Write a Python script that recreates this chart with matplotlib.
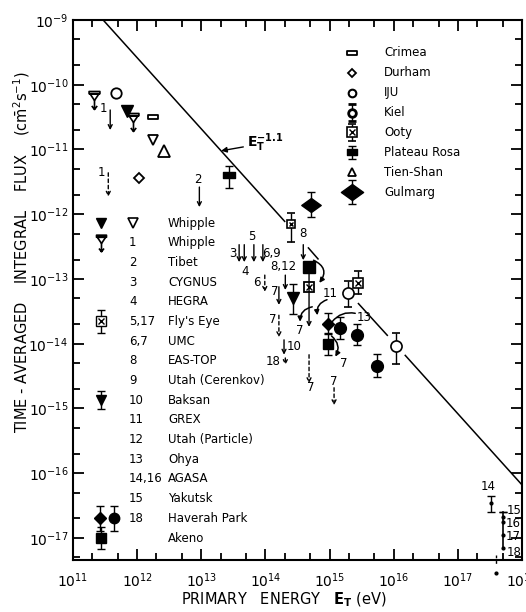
import numpy as np
import matplotlib
matplotlib.use('Agg')
from matplotlib import pyplot as plt
from matplotlib import ticker as mticker
from matplotlib.path import Path

# All values are log10 of E_T [eV] and of integral flux [cm^-2 s^-1],
# read off the published figure.

# E_T^-1.1 reference line, drawn in pieces (gaps around data points)
line_E = [[11.47, 14.30], [14.67, 14.82], [15.45, 15.90], [16.18, 18.00]]
line_F = [[-9.00, -12.11], [-12.52, -12.69], [-13.38, -13.87], [-14.18, -16.18]]

# single symbols without error bars
iju_E, iju_F = [11.67], [-10.13]
whip_fill_E, whip_fill_F = [11.84], [-10.41]
whip_open_E, whip_open_F = [12.25], [-10.85]
whip1_E, whip1_F = [11.33, 11.94], [-10.24, -10.58]
crimea_E, crimea_F = [12.25], [-10.50]
tien_E, tien_F = [12.42], [-11.02]
durham_E, durham_F = [12.03], [-11.44]
bigsq_E, bigsq_F = [14.68], [-12.81]
fly_E, fly_F = [14.68], [-13.12]

# symbols with error bars: centre, lower, upper
plateau_E, plateau_F, plateau_lo, plateau_hi = [13.43], [-11.39], [-11.59], [-11.25]
gulmarg_E, gulmarg_F, gulmarg_lo, gulmarg_hi = [14.71], [-11.86], [-12.04], [-11.66]
flyerr_E, flyerr_F, flyerr_lo, flyerr_hi = [14.40], [-12.15], [-12.43], [-11.98]
ooty_E, ooty_F, ooty_lo, ooty_hi = [15.45], [-13.06], [-13.23], [-12.88]
ocirc_E = [15.29, 16.04]
ocirc_F = [-13.22, -14.03]
ocirc_lo = [-13.43, -14.31]
ocirc_hi = [-13.03, -13.83]
fcirc_E = [15.17, 15.43, 15.74]
fcirc_F = [-13.76, -13.86, -14.34]
fcirc_lo = [-13.93, -14.02, -14.51]
fcirc_hi = [-13.59, -13.69, -14.16]
fdiam_E, fdiam_F, fdiam_lo, fdiam_hi = [14.98], [-13.69], [-13.85], [-13.53]
fsq_E, fsq_F, fsq_lo, fsq_hi = [14.98], [-14.00], [-14.17], [-13.83]
baksan_E, baksan_F, baksan_lo, baksan_hi = [14.43], [-13.29], [-13.54], [-13.08]
agasa_E, agasa_F, agasa_lo, agasa_hi = [17.51], [-16.46], [-16.60], [-16.35]

# UHE points stacked at 10^17.7 (15, 16, 17, 18)
uhe_E = 17.71
uhe_F = [-16.68, -16.75, -16.95, -17.15]
uhe_top = -16.60

# upper-limit arrows: E, from, to, dashed
ul_E = [11.58, 11.55, 12.97, 13.59, 13.67, 13.82, 13.96, 13.99, 14.59, 14.31,
        14.21, 14.21, 14.29, 14.31, 14.68, 15.07, 14.68]
ul_top = [-10.39, -11.36, -11.58, -12.47, -12.47, -12.47, -12.47, -12.94, -12.47, -12.94,
          -13.12, -13.56, -13.94, -14.22, -14.17, -14.68, -12.81]
ul_bot = [-10.70, -11.73, -11.89, -12.74, -12.74, -12.74, -12.74, -13.20, -12.71, -13.17,
          -13.40, -13.90, -14.17, -14.33, -14.61, -14.95, -13.74]
ul_dash = [False, True, False, False, False, False, False, True, False, False,
           False, True, False, True, True, True, False]

# curved arrows: E0, F0, E1, F1, curvature, with head
cv_E0 = [14.75, 14.73, 14.96, 15.40, 15.03]
cv_F0 = [-12.71, -13.43, -13.32, -13.53, -13.88]
cv_E1 = [14.84, 14.54, 14.81, 15.04, 15.09]
cv_F1 = [-13.06, -13.66, -13.56, -13.66, -14.20]
cv_rad = [-0.6, 0.4, 0.4, 0.3, -0.4]
cv_head = [True, True, True, False, True]

# experiment numbers written next to the points
num_text = ['1', '1', '2', '3', '4', '5', '6,9', '6', '8', '8,12', '7', '7', '10', '18',
            '7', '7', '7', '11', '13', '7', '14', '15', '16', '17', '18']
num_E = [11.47, 11.45, 12.95, 13.50, 13.68, 13.79, 14.10, 13.86, 14.59, 14.28, 14.14, 14.12,
         14.45, 14.12, 14.70, 15.07, 14.53, 15.01, 15.54, 15.22, 17.47, 17.87, 17.87, 17.87, 17.87]
num_F = [-10.36, -11.36, -11.47, -12.60, -12.89, -12.34, -12.60, -13.05, -12.29, -12.81,
         -13.19, -13.63, -14.05, -14.28, -14.67, -14.59, -13.79, -13.22, -13.59, -14.30,
         -16.21, -16.58, -16.77, -16.97, -17.23]

# axis decades
x_decades = list(range(11, 19))
y_decades = list(range(-17, -8))

# key inside the plot
key_nums = ['', '1', '2', '3', '4', '5,17', '6,7', '8', '9', '10', '11', '12', '13',
            '14,16', '15', '18', '']
key_names = ['Whipple', 'Whipple', 'Tibet', 'CYGNUS', 'HEGRA', "Fly's Eye", 'UMC',
             'EAS-TOP', 'Utah (Cerenkov)', 'Baksan', 'GREX', 'Utah (Particle)', 'Ohya',
             'AGASA', 'Yakutsk', 'Haverah Park', 'Akeno']
site_names = ['Crimea', 'Durham', 'IJU', 'Kiel', 'Ooty', 'Plateau Rosa', 'Tien-Shan', 'Gulmarg']


def P(v):
    return 10.0 ** np.asarray(v, dtype=float)


# custom marker shapes
M, L, C = Path.MOVETO, Path.LINETO, Path.CLOSEPOLY
whip1_marker = Path([(-0.6, 1.0), (0.6, 1.0), (0.6, 0.75), (-0.6, 0.75), (-0.6, 1.0),
                     (-0.5, 0.75), (0.5, 0.75), (0.0, 0.0), (-0.5, 0.75),
                     (0.0, 0.0), (0.0, -1.0),
                     (-0.3, -0.6), (0.0, -1.0), (0.3, -0.6)],
                    [M, L, L, L, C, M, L, L, C, M, L, M, L, L])
rect_marker = Path([(-1, -0.5), (1, -0.5), (1, 0.5), (-1, 0.5), (-1, -0.5)],
                   [M, L, L, L, C])
rect2_marker = Path([(-1, -0.6), (1, -0.6), (1, 0.6), (-1, 0.6), (-1, -0.6)],
                    [M, L, L, L, C])
diam_marker = Path([(-1, 0), (0, 0.72), (1, 0), (0, -0.72), (-1, 0)], [M, L, L, L, C])

plt.rcParams['font.family'] = ['DejaVu Sans']

fig = plt.figure(figsize=(5.26, 6.12), dpi=100)
ax = fig.add_axes([73 / 526, 52 / 612, 449 / 526, 540 / 612])
ax.set_xscale('log')
ax.set_yscale('log')
ax.set_xlim(1e11, 1e18)
ax.set_ylim(10 ** -17.34, 1e-9)

k = dict(color='k')
eb = dict(capsize=3, elinewidth=1.0, capthick=1.0, ecolor='k', mec='k', linestyle='none')

# reference line
for xs, ys in zip(line_E, line_F):
    ax.plot(P(xs), P(ys), color='k', lw=1.1, zorder=1)
ax.annotate(r'$\mathbf{E_T^{-1.1}}$', xy=(10 ** 13.31, 10 ** -11.02),
            xytext=(10 ** 13.72, 10 ** -10.90), fontsize=10, va='center',
            arrowprops=dict(arrowstyle='-|>', color='k', lw=1, shrinkA=1, shrinkB=0,
                            mutation_scale=8))

# plain symbols
ax.plot(P(iju_E), P(iju_F), 'o', ms=7.5, mfc='white', mec='k', mew=1.3, **k)
ax.plot(P(whip_fill_E), P(whip_fill_F), 'v', ms=8, **k)
ax.plot(P(whip_open_E), P(whip_open_F), 'v', ms=7.5, mfc='white', mec='k', mew=1.3)
ax.plot(P(whip1_E), P(whip1_F), marker=whip1_marker, ms=13, mfc='none', mec='k', mew=1.2,
        linestyle='none')
ax.plot(P(crimea_E), P(crimea_F), marker=rect_marker, ms=7, mfc='white', mec='k', mew=1.3,
        linestyle='none')
ax.plot(P(tien_E), P(tien_F), '^', ms=8, mfc='white', mec='k', mew=1.3)
ax.plot(P(durham_E), P(durham_F), 'D', ms=5, mfc='white', mec='k', mew=1.3)
ax.plot(P(bigsq_E), P(bigsq_F), 's', ms=9, **k)
ax.plot(P(fly_E), P(fly_F), 's', ms=7, mfc='white', mec='k', mew=1.3, zorder=3)
ax.plot(P(fly_E), P(fly_F), 'x', ms=4, mew=1, zorder=4, **k)

# symbols with error bars
def errpts(E, F, lo, hi, **kw):
    F = np.asarray(F)
    yerr = [P(F) - P(lo), P(hi) - P(F)]
    ax.errorbar(P(E), P(F), yerr=yerr, zorder=3, **eb, **kw)

errpts(plateau_E, plateau_F, plateau_lo, plateau_hi, marker=rect2_marker, ms=8, mfc='k')
errpts(gulmarg_E, gulmarg_F, gulmarg_lo, gulmarg_hi, marker=diam_marker, ms=14, mfc='k')
errpts(flyerr_E, flyerr_F, flyerr_lo, flyerr_hi, marker='s', ms=6, mfc='white', mew=1.2)
ax.plot(P(flyerr_E), P(flyerr_F), 'x', ms=3.5, mew=1, zorder=4, **k)
errpts(ooty_E, ooty_F, ooty_lo, ooty_hi, marker='s', ms=6.5, mfc='white', mew=1.2)
ax.plot(P(ooty_E), P(ooty_F), 'x', ms=4.5, mew=1, zorder=4, **k)
errpts(ocirc_E, ocirc_F, ocirc_lo, ocirc_hi, marker='o', ms=8, mfc='white', mew=1.2)
errpts(fcirc_E, fcirc_F, fcirc_lo, fcirc_hi, marker='o', ms=8.5, mfc='k')
errpts(fdiam_E, fdiam_F, fdiam_lo, fdiam_hi, marker='D', ms=6, mfc='k')
errpts(fsq_E, fsq_F, fsq_lo, fsq_hi, marker='s', ms=7.5, mfc='k')
errpts(baksan_E, baksan_F, baksan_lo, baksan_hi, marker='v', ms=9, mfc='k')
errpts(agasa_E, agasa_F, agasa_lo, agasa_hi, marker='.', ms=4, mfc='k')

# stacked UHE points near 10^17.7
ax.errorbar([P(uhe_E)], [P(uhe_top)], yerr=[[0], [0]], capsize=3, ecolor='k', linestyle='none')
ax.plot(P([uhe_E, uhe_E]), P([uhe_top, uhe_F[-1]]), color='k', lw=1.2)
ax.plot(P([uhe_E] * len(uhe_F)), P(uhe_F), '.', ms=4, **k)
ax.plot(P([17.60, 17.60]), P([-17.26, -17.44]), color='k', lw=1, ls=(0, (2, 2)), clip_on=False)
ax.plot(P([17.60]), P([-17.54]), '.', ms=4, clip_on=False, **k)

# upper limits
for E, t, b, d in zip(ul_E, ul_top, ul_bot, ul_dash):
    ax.annotate('', xy=(P(E), P(b)), xytext=(P(E), P(t)),
                arrowprops=dict(arrowstyle='->', color='k', lw=1.0, shrinkA=0, shrinkB=0,
                                mutation_scale=7,
                                linestyle=(0, (2.5, 2)) if d else '-'))

# curved arrows
for e0, f0, e1, f1, r, h in zip(cv_E0, cv_F0, cv_E1, cv_F1, cv_rad, cv_head):
    ax.annotate('', xy=(P(e1), P(f1)), xytext=(P(e0), P(f0)),
                arrowprops=dict(arrowstyle='-|>' if h else '-', color='k', lw=1.1,
                                shrinkA=0, shrinkB=0, mutation_scale=7,
                                connectionstyle='arc3,rad=%.2f' % r))

# experiment numbers
for s, E, F in zip(num_text, num_E, num_F):
    ax.text(P(E), P(F), s, fontsize=8.5, ha='center', va='center')

# key on the left
y0, dy = (560 - 223) / 540, 19.69 / 540
for i, (n, name) in enumerate(zip(key_nums, key_names)):
    y = y0 - i * dy
    ax.text(0.125, y, n, transform=ax.transAxes, fontsize=8.5, va='center')
    ax.text(0.2116, y, name, transform=ax.transAxes, fontsize=8.5, va='center')

tA = ax.transAxes
ax.plot([0.0624], [y0], 'v', ms=7, transform=tA, **k)
ax.plot([0.134], [y0], 'v', ms=6.5, mfc='white', mec='k', mew=1.2, transform=tA)
ax.plot([0.0624], [y0 - dy], marker=whip1_marker, ms=12, mfc='none', mec='k', mew=1.2,
        transform=tA, linestyle='none')
ax.errorbar([0.0624], [y0 - 5 * dy], yerr=0.022, marker='s', ms=7, mfc='white',
            transform=tA, **eb)
ax.plot([0.0624], [y0 - 5 * dy], 'x', ms=4, mew=1, transform=tA, zorder=4, **k)
ax.errorbar([0.0624], [y0 - 9 * dy], yerr=0.017, marker='v', ms=7, mfc='k',
            transform=tA, **eb)
ax.errorbar([0.0602], [y0 - 15 * dy], yerr=0.023, marker='D', ms=6, mfc='k',
            transform=tA, **eb)
ax.errorbar([0.0913], [y0 - 15 * dy], yerr=0.023, marker='o', ms=7.5, mfc='k',
            transform=tA, **eb)
ax.errorbar([0.0624], [y0 - 16 * dy], yerr=0.02, marker='s', ms=7, mfc='k',
            transform=tA, **eb)

# key on the right
ry0, rdy = (560 - 53) / 540, 19.86 / 540
sx = 0.621
for i, name in enumerate(site_names):
    ax.text(0.693, ry0 - i * rdy, name, transform=tA, fontsize=8.5, va='center')
ax.plot([sx], [ry0], marker=rect_marker, ms=7, mfc='white', mec='k', mew=1.3,
        transform=tA, linestyle='none')
ax.plot([sx], [ry0 - rdy], 'D', ms=4.5, mfc='white', mec='k', mew=1.3, transform=tA)
ax.plot([sx], [ry0 - 2 * rdy], 'o', ms=5.5, mfc='white', mec='k', mew=1.5, transform=tA)
ax.errorbar([sx], [ry0 - 3 * rdy], yerr=0.015, marker='o', ms=5.5, mfc='white', mew=2,
            transform=tA, **eb)
ax.errorbar([sx], [ry0 - 4 * rdy], yerr=0.015, marker='s', ms=6.5, mfc='white', mew=1.2,
            transform=tA, **eb)
ax.plot([sx], [ry0 - 4 * rdy], 'x', ms=4.5, mew=1, transform=tA, zorder=4, **k)
ax.errorbar([sx], [ry0 - 5 * rdy], yerr=0.012, marker=rect2_marker, ms=7, mfc='k',
            transform=tA, **eb)
ax.plot([sx], [ry0 - 6 * rdy], '^', ms=5.5, mfc='white', mec='k', mew=1.3, transform=tA)
ax.errorbar([sx], [ry0 - 7 * rdy], yerr=0.023, marker=diam_marker, ms=16, mfc='k',
            transform=tA, **eb)

# axes styling
for sp in ax.spines.values():
    sp.set_linewidth(1.5)
ax.xaxis.set_major_locator(mticker.FixedLocator(P(x_decades)))
ax.yaxis.set_major_locator(mticker.FixedLocator(P(y_decades)))
ax.xaxis.set_major_formatter(mticker.LogFormatterSciNotation())
ax.yaxis.set_major_formatter(mticker.LogFormatterSciNotation())
ax.xaxis.set_minor_locator(mticker.LogLocator(base=10, subs=(2, 5), numticks=20))
ax.yaxis.set_minor_locator(mticker.LogLocator(base=10, subs=(2, 5), numticks=20))
ax.xaxis.set_minor_formatter(mticker.NullFormatter())
ax.yaxis.set_minor_formatter(mticker.NullFormatter())
ax.tick_params(which='both', direction='in', top=True, right=True, width=1.3, labelsize=10)
ax.tick_params(which='major', length=8)
ax.tick_params(which='minor', length=5)
ax.tick_params(axis='x', pad=8)

ax.set_xlabel(r'PRIMARY   ENERGY   $\mathbf{E_T}$ (eV)', fontsize=10.5)
ax.xaxis.set_label_coords(0.47, -0.056)
ax.set_ylabel(r'TIME - AVERAGED    INTEGRAL    FLUX    (c$\mathregular{\bar{m}^{2}}$s$^{-1}$)',
              fontsize=10.5)
ax.yaxis.set_label_coords(-0.092, 0.57)

fname = 'out.png'
print('Writing %s' % fname)
fig.savefig(fname, dpi=100)
plt.close(fig)
